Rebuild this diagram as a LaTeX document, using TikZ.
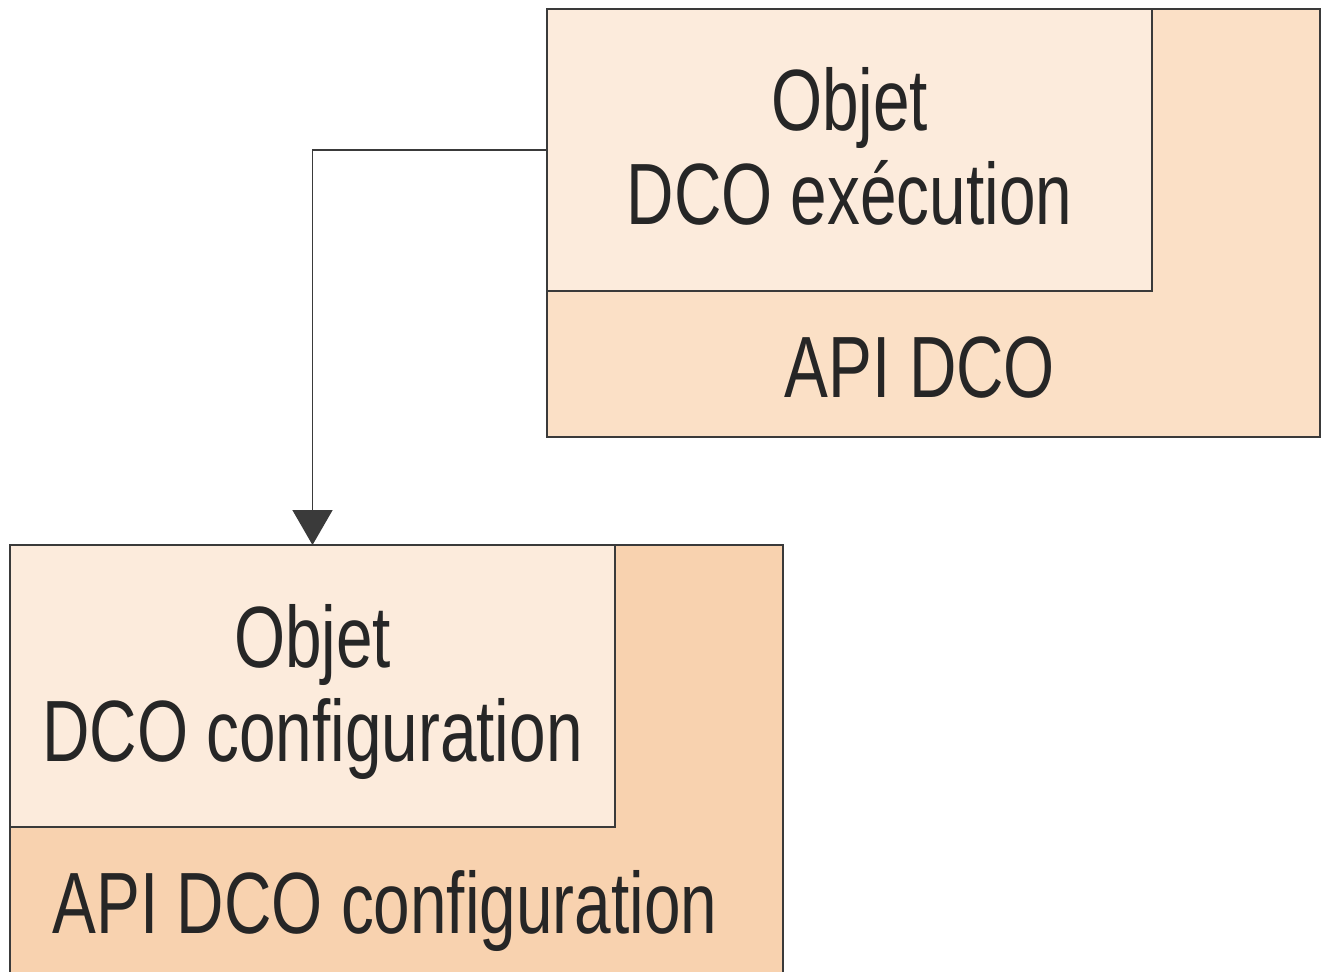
\documentclass[tikz,border=0pt]{standalone}
\usepackage{fontspec}
\setmainfont{Liberation Sans}[FakeStretch=0.755]
\usetikzlibrary{arrows.meta}
\definecolor{innerfill}{HTML}{FCEBDC}
\definecolor{apitop}{HTML}{FBE0C6}
\definecolor{apibottom}{HTML}{F8D2AF}
\definecolor{edge}{HTML}{3A3A3A}
\definecolor{ink}{HTML}{262626}
\begin{document}
\begin{tikzpicture}[x=1bp,y=-1bp,
  box/.style={draw=edge, line width=1.6bp, inner sep=0pt, outer sep=0pt},
  outerbox/.style={box, minimum width=773bp, minimum height=428bp, anchor=north west},
  innerbox/.style={box, fill=innerfill, minimum width=605bp, minimum height=282bp,
    anchor=north west},
  boxtext/.style={anchor=base, align=center, text=ink, inner sep=0pt,
    font=\fontsize{87bp}{94bp}\selectfont},
  link/.style={draw=edge, line width=1.6bp, -{Triangle[width=40bp,length=35bp]}}]
\clip (0,0) rectangle (1331,971);
\fill[white] (0,0) rectangle (1331,971);
% execution object with its API layer
\node[outerbox, fill=apitop] (apiexec) at (547,9) {};
\node[innerbox] (objexec) at (apiexec.north west) {};
\node[boxtext] (objexectext) at ([shift={(302.5,215)}]objexec.north west) {Objet\\DCO exécution};
\node[boxtext] (apiexectext) at ([shift={(373,-40)}]apiexec.south west) {API DCO};
% configuration object with its API layer
\node[outerbox, fill=apibottom] (apiconf) at (10,545) {};
\node[innerbox] (objconf) at (apiconf.north west) {};
\node[boxtext] (objconftext) at ([shift={(302.5,216)}]objconf.north west) {Objet\\DCO configuration};
\node[boxtext] (apiconftext) at ([shift={(375,-40)}]apiconf.south west) {API DCO configuration};
% link from the execution object to the configuration object
\draw[link] (objexec.west) -| (objconf.north);
\end{tikzpicture}
\end{document}
